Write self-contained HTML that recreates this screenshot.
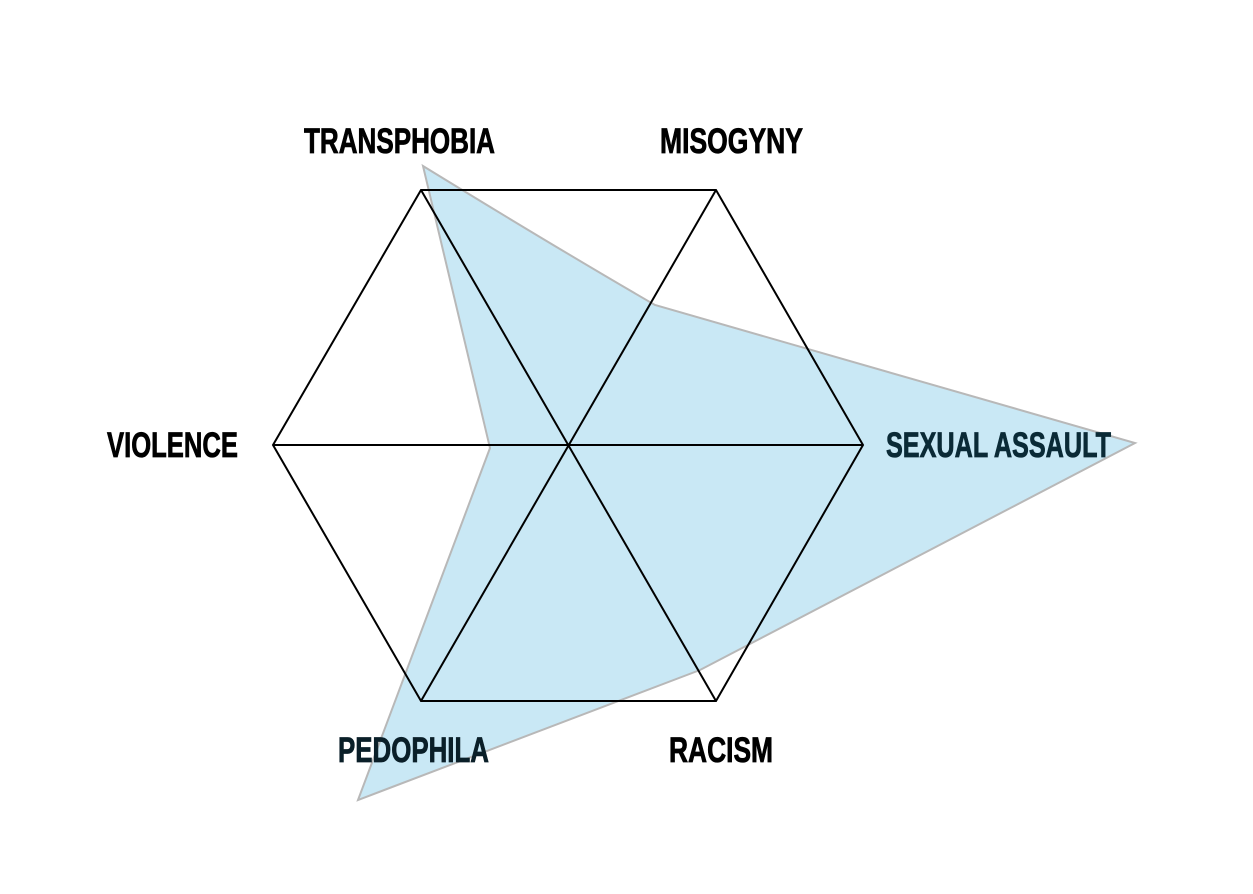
<!DOCTYPE html>
<html><head><meta charset="utf-8"><style>
html,body{margin:0;padding:0;background:#fff;}
svg{display:block;}
text{font-family:"Liberation Sans",sans-serif;font-weight:bold;font-size:35px;fill:#000;stroke:#000;stroke-width:0.8;}
</style></head><body>
<svg width="1253" height="894" viewBox="0 0 1253 894" xmlns="http://www.w3.org/2000/svg">
<path d="M423,166 Q560,250 655,305 L1135,443 L700,670 L358,800 L490,448 Z" fill="#c9e8f5" stroke="#b8b8b8" stroke-width="2"/>
<g stroke="#000" stroke-width="2" fill="none">
<polygon points="421,190 716,190 863,445 716,701 421,701 273,445"/>
<line x1="421" y1="190" x2="716" y2="701"/>
<line x1="716" y1="190" x2="421" y2="701"/>
<line x1="273" y1="445" x2="863" y2="445"/>
</g>
<text x="304" y="153" textLength="191" lengthAdjust="spacingAndGlyphs">TRANSPHOBIA</text>
<text x="660" y="153" textLength="143" lengthAdjust="spacingAndGlyphs">MISOGYNY</text>
<text x="107" y="457" textLength="131" lengthAdjust="spacingAndGlyphs">VIOLENCE</text>
<text x="886" y="457" textLength="225" lengthAdjust="spacingAndGlyphs" style="fill:#0a2a36;stroke:#0a2a36">SEXUAL ASSAULT</text>
<text x="338" y="762" textLength="151" lengthAdjust="spacingAndGlyphs" style="fill:#0a1f28;stroke:#0a1f28">PEDOPHILA</text>
<text x="669" y="762" textLength="104" lengthAdjust="spacingAndGlyphs">RACISM</text>
</svg>
</body></html>
